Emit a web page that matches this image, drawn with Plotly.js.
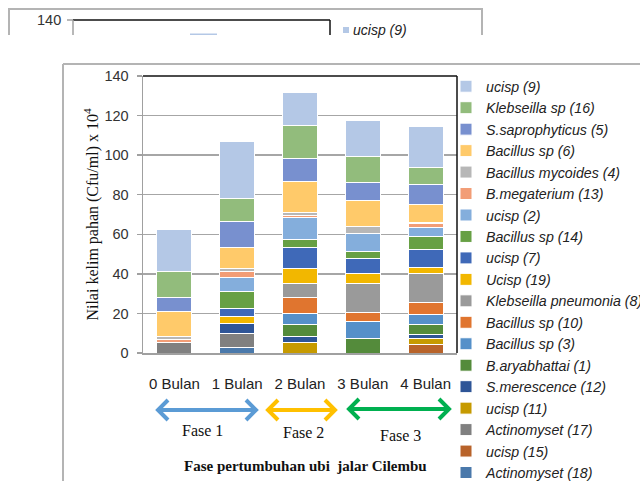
<!DOCTYPE html>
<html>
<head>
<meta charset="utf-8">
<script src="https://cdn.plot.ly/plotly-3.0.1.min.js"></script>
<style>html,body{margin:0;padding:0;background:#fff;}#chart{width:640px;height:481px;}</style>
</head>
<body>
<div id="chart"></div>
<script>
// Categories (x axis)
const categories = ["0 Bulan", "1 Bulan", "2 Bulan", "3 Bulan", "4 Bulan"];

// Series values, stacked bottom -> top
const actinomyset18   = [0, 3.0, 0, 0, 0];
const ucisp15         = [0, 0, 0, 0, 4.5];
const actinomyset17   = [5.3, 7.1, 0, 0, 0];
const ucisp11         = [0, 0, 5.4, 0, 2.9];
const sMerescence12   = [0, 5.0, 3.0, 0, 2.0];
const bAryabhattai1   = [0, 0, 6.2, 7.4, 4.9];
const bacillus3       = [0, 0, 5.6, 8.7, 5.0];
const bacillus10      = [0, 0, 8.0, 4.2, 6.4];
const kPneumonia8     = [0, 0, 7.1, 15.0, 14.3];
const ucisp19         = [0, 3.1, 7.2, 5.0, 3.2];
const ucisp7          = [0, 4.2, 10.8, 7.3, 9.2];
const bacillus14      = [0, 8.7, 4.2, 3.5, 6.4];
const ucisp2          = [0, 7.1, 11.1, 9.2, 4.6];
const bMegaterium13   = [1.7, 2.8, 0.8, 0, 2.1];
const bMycoides4      = [1.5, 1.5, 1.4, 3.7, 0.6];
const bacillus6       = [12.5, 10.9, 16.1, 13.0, 9.2];
const sSaprophyticus5 = [7.2, 13.3, 11.3, 9.4, 10.1];
const klebseilla16    = [13.0, 11.6, 16.6, 12.8, 8.4];
const ucisp9          = [21.3, 28.8, 17.1, 18.4, 20.8];

// Series names (same order)
const seriesNames = ["Actinomyset (18)", "ucisp (15)", "Actinomyset (17)", "ucisp (11)",
  "S.merescence (12)", "B.aryabhattai (1)", "Bacillus sp (3)", "Bacillus sp (10)",
  "Klebseilla pneumonia (8)", "Ucisp (19)", "ucisp (7)", "Bacillus sp (14)", "ucisp (2)",
  "B.megaterium (13)", "Bacillus mycoides (4)", "Bacillus sp (6)", "S.saprophyticus (5)",
  "Klebseilla sp (16)", "ucisp (9)"];
const seriesValues = [actinomyset18, ucisp15, actinomyset17, ucisp11, sMerescence12,
  bAryabhattai1, bacillus3, bacillus10, kPneumonia8, ucisp19, ucisp7, bacillus14, ucisp2,
  bMegaterium13, bMycoides4, bacillus6, sSaprophyticus5, klebseilla16, ucisp9];
const seriesColors = ["#4a79ab", "#b8632a", "#808080", "#c69a00", "#2e5597", "#548b3b",
  "#5590c9", "#e0752f", "#9a9a9a", "#f2b700", "#3f69b8", "#67a044", "#84aedc", "#f29d76",
  "#b7b7b7", "#ffca6a", "#7890cf", "#92bc7c", "#b4c8e6"];

// Y ticks
const yTicks = [0, 20, 40, 60, 80, 100, 120, 140];

// Growth phases (labels under the axis)
const phaseLabels = ["Fase 1", "Fase 2", "Fase 3"];
const phaseColors = ["#5b9bd5", "#ffc000", "#00b050"];

const traces = seriesNames.map((n, i) => ({
  type: "bar", name: n, x: categories, y: seriesValues[i],
  marker: {color: seriesColors[i], line: {color: "#ffffff", width: 1}},
  hoverinfo: "name+y"
}));

// pixel -> paper helpers (plot area: x 143..457, y 76..353)
const L = 143, R = 457, T = 76, B = 353;
const px = v => (v - L) / (R - L);
const py = v => (B - v) / (B - T);

const shapes = [
  // plot frame top & right (black)
  {type: "line", xref: "paper", yref: "paper", x0: 0, x1: 1, y0: 1, y1: 1, line: {color: "#111", width: 1.5}},
  {type: "line", xref: "paper", yref: "paper", x0: 1, x1: 1, y0: 0, y1: 1, line: {color: "#111", width: 1.5}},
  // outer chart frame
  {type: "line", xref: "paper", yref: "paper", x0: px(63), x1: px(645), y0: py(64), y1: py(64), line: {color: "#b4b4b4", width: 2}},
  {type: "line", xref: "paper", yref: "paper", x0: px(63), x1: px(63), y0: py(64), y1: py(490), line: {color: "#b4b4b4", width: 2}},
  // top fragment: outer frame
  {type: "path", xref: "paper", yref: "paper",
   path: `M${px(9)},${py(35)} L${px(9)},${py(9)} L${px(482)},${py(9)} L${px(482)},${py(35)}`,
   line: {color: "#b4b4b4", width: 2}},
  // top fragment: plot frame
  {type: "line", xref: "paper", yref: "paper", x0: px(73), x1: px(330), y0: py(20), y1: py(20), line: {color: "#111", width: 1.5}},
  {type: "line", xref: "paper", yref: "paper", x0: px(330), x1: px(330), y0: py(20), y1: py(35), line: {color: "#111", width: 1.5}},
  {type: "line", xref: "paper", yref: "paper", x0: px(73), x1: px(73), y0: py(20), y1: py(35), line: {color: "#a0a0a0", width: 1.5}},
  {type: "line", xref: "paper", yref: "paper", x0: px(67), x1: px(73), y0: py(20), y1: py(20), line: {color: "#a0a0a0", width: 1.5}},
  {type: "rect", xref: "paper", yref: "paper", x0: px(190), x1: px(217), y0: py(33.5), y1: py(35), line: {width: 0}, fillcolor: "#b4c8e6"},
  {type: "rect", xref: "paper", yref: "paper", x0: px(343), x1: px(349), y0: py(27), y1: py(33), line: {width: 0}, fillcolor: "#b4c8e6"}
];

// double-headed arrows with open chevron heads
function addArrow(x1, x2, y, color) {
  const hx = 11, hy = 10;
  shapes.push({type: "line", xref: "paper", yref: "paper", x0: px(x1 + 2), x1: px(x2 - 2), y0: py(y), y1: py(y),
               line: {color: color, width: 4}});
  shapes.push({type: "path", xref: "paper", yref: "paper",
               path: `M${px(x1 + hx)},${py(y - hy)} L${px(x1 + 1)},${py(y)} L${px(x1 + hx)},${py(y + hy)}`,
               line: {color: color, width: 4}});
  shapes.push({type: "path", xref: "paper", yref: "paper",
               path: `M${px(x2 - hx)},${py(y - hy)} L${px(x2 - 1)},${py(y)} L${px(x2 - hx)},${py(y + hy)}`,
               line: {color: color, width: 4}});
}
addArrow(157, 257, 410, phaseColors[0]);
addArrow(267, 336, 410, phaseColors[1]);
addArrow(348, 450, 409, phaseColors[2]);

const serif = "Liberation Serif, Times New Roman, serif";
const sans = "Liberation Sans, Arial, sans-serif";

const label = (x, y, text, font, xanchor) => ({
  xref: "paper", yref: "paper", x: px(x), y: py(y), text: text, showarrow: false,
  xanchor: xanchor || "center", yanchor: "middle", font: font
});

const annotations = [
  label(202, 430, phaseLabels[0], {family: serif, size: 16, color: "#111"}),
  label(303, 432, phaseLabels[1], {family: serif, size: 16, color: "#111"}),
  label(400, 435, phaseLabels[2], {family: serif, size: 16, color: "#111"}),
  label(305, 466, "<b>Fase pertumbuhan ubi  jalar Cilembu</b>", {family: serif, size: 15, color: "#111"}),
  // top fragment texts
  label(63, 20, "140", {family: sans, size: 14.5, color: "#333"}, "right"),
  label(351, 30, "ucisp (9)", {family: sans, size: 14, style: "italic", color: "#222"}, "left")
];

const layout = {
  width: 640, height: 481,
  margin: {l: L, r: 640 - R, t: T, b: 481 - B, autoexpand: false},
  paper_bgcolor: "#fff", plot_bgcolor: "#fff",
  barmode: "stack", bargap: 0.443,
  showlegend: true,
  legend: {x: px(446), xanchor: "left", yref: "container", y: 1 - 70.5 / 481, yanchor: "top",
           traceorder: "reversed", maxheight: 700,
           bgcolor: "rgba(0,0,0,0)", borderwidth: 0,
           font: {family: sans, size: 14.2, style: "italic", color: "#222"}},
  xaxis: {type: "category", range: [-0.5, 4.5], showgrid: false, zeroline: false,
          showline: true, linecolor: "#a0a0a0", linewidth: 1.5, ticks: "",
          ticklabelstandoff: 16, tickfont: {family: sans, size: 15, color: "#222"}},
  yaxis: {range: [0, 140], tickvals: yTicks, ticktext: yTicks.map(String),
          showgrid: true, gridcolor: "#a6a6a6", gridwidth: 1.5, zeroline: false,
          showline: true, linecolor: "#a0a0a0", linewidth: 1.5,
          ticks: "outside", ticklen: 5, tickwidth: 1.5, tickcolor: "#a0a0a0",
          ticklabelstandoff: 5, tickfont: {family: sans, size: 14.5, color: "#333"},
          title: {text: "Nilai kelim pahan (Cfu/ml) x 10<sup>4</sup>", standoff: 2,
                  font: {family: serif, size: 16, color: "#111"}}},
  shapes: shapes,
  annotations: annotations
};

Plotly.newPlot("chart", traces, layout, {displayModeBar: false, staticPlot: true});
</script>
</body>
</html>
